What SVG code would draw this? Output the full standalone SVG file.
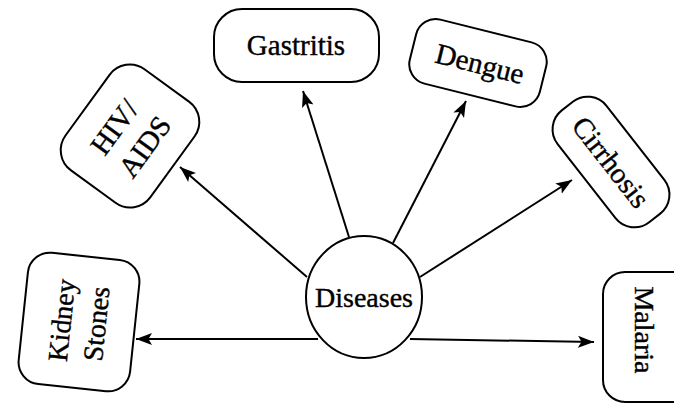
<svg xmlns="http://www.w3.org/2000/svg" width="674" height="405" viewBox="0 0 674 405">
<style>
.box{fill:#fff;stroke:#000;stroke-width:2}
.t{font-family:"Liberation Serif","Times New Roman",serif;font-size:28px;fill:#000;stroke:#000;stroke-width:0.4;text-anchor:middle}
.ln{stroke:#000;stroke-width:2;fill:none;marker-end:url(#ah)}
</style>
<defs>
<marker id="ah" markerUnits="userSpaceOnUse" markerWidth="17" markerHeight="13" refX="16" refY="6.5" orient="auto">
<path d="M0,0.5 L16,6.5 L0,12.5 L3.5,6.5 z" fill="#000"/>
</marker>
</defs>
<rect width="674" height="405" fill="#fff"/>
<g id="connectors">
<line class="ln" x1="307" y1="277" x2="180" y2="167"/>
<line class="ln" x1="349" y1="237" x2="303" y2="91"/>
<line class="ln" x1="393" y1="243" x2="466" y2="101"/>
<line class="ln" x1="420" y1="277" x2="572" y2="180"/>
<line class="ln" x1="318" y1="339" x2="136" y2="339"/>
<line class="ln" x1="410" y1="339" x2="594" y2="342"/>
</g>
<g id="diseases">
<ellipse class="box" cx="364" cy="297" rx="58" ry="61"/>
<text class="t" x="364" y="307">Diseases</text>
</g>
<g id="gastritis">
<rect class="box" x="214" y="9" width="165" height="73" rx="28"/>
<text class="t" x="296" y="55" style="font-size:29px">Gastritis</text>
</g>
<g id="dengue" transform="translate(478,63) rotate(14)">
<rect class="box" x="-67" y="-33" width="134" height="66" rx="20"/>
<text class="t" x="2" y="10" style="font-size:29px">Dengue</text>
</g>
<g id="cirrhosis" transform="translate(611,162) rotate(52)">
<rect class="box" x="-71" y="-31" width="142" height="62" rx="24"/>
<text class="t" x="0" y="10" style="font-size:29px">Cirrhosis</text>
</g>
<g id="hiv-aids" transform="translate(130,136) rotate(-54)">
<rect class="box" x="-62.5" y="-52.5" width="125" height="105" rx="25"/>
<text class="t" x="-2" y="-8" style="font-size:29px">HIV/</text>
<text class="t" x="0" y="28" style="font-size:29px">AIDS</text>
</g>
<g id="kidney-stones" transform="translate(79,322) rotate(6)">
<rect class="box" x="-56" y="-66" width="112" height="132" rx="22"/>
<g transform="rotate(-90)">
<text class="t" x="0" y="-8">Kidney</text>
<text class="t" x="0" y="27">Stones</text>
</g>
</g>
<g id="malaria">
<rect class="box" x="603" y="272" width="120" height="130" rx="22"/>
<text class="t" transform="translate(645,330) rotate(90)" x="0" y="10">Malaria</text>
</g>
</svg>
